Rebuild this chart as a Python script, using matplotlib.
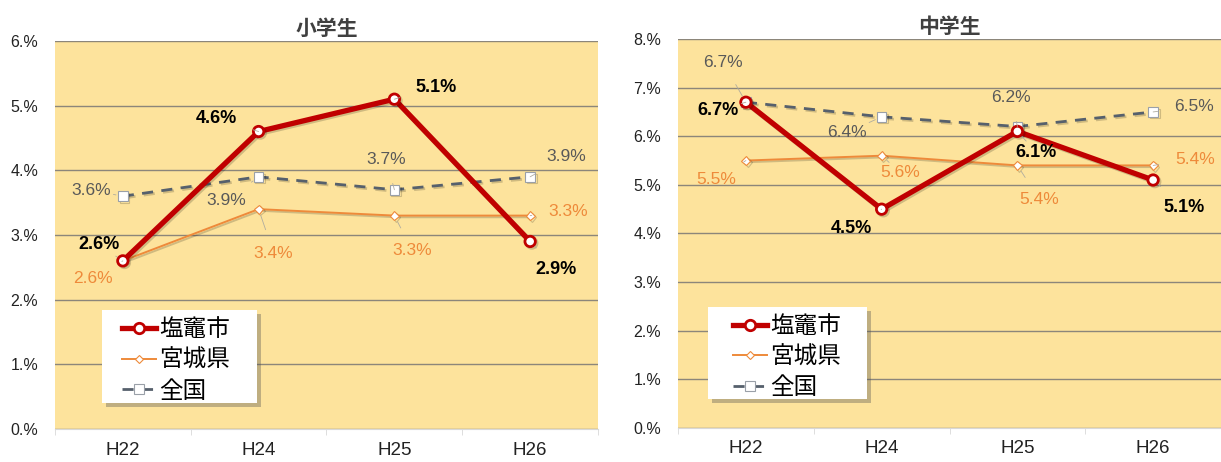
import matplotlib
matplotlib.use("Agg")
import matplotlib.pyplot as plt
import matplotlib.patheffects as pe
from matplotlib.patches import Rectangle

plt.rcParams['font.family'] = ['Liberation Sans', 'Noto Sans CJK JP', 'DejaVu Sans']

# ---- data ----
categories = ["H22", "H24", "H25", "H26"]
series_names = ["塩竈市", "宮城県", "全国"]

elem_titles = "小学生"
elem_shiogama = [2.6, 4.6, 5.1, 2.9]
elem_miyagi = [2.6, 3.4, 3.3, 3.3]
elem_national = [3.6, 3.9, 3.7, 3.9]
elem_yticks = [0, 1, 2, 3, 4, 5, 6]

jhs_title = "中学生"
jhs_shiogama = [6.7, 4.5, 6.1, 5.1]
jhs_miyagi = [5.5, 5.6, 5.4, 5.4]
jhs_national = [6.7, 6.4, 6.2, 6.5]
jhs_yticks = [0, 1, 2, 3, 4, 5, 6, 7, 8]

# ---- label offsets (pixels) ----
elem_offsets = [
    [(-24, 16), (-42, 13), (42, 12), (26, -28)],
    [(-30, -18), (15, -44), (18, -35), (38, 4)],
    [(-32, 6), (-32, -24), (-8, 30), (36, 20)],
]
jhs_offsets = [
    [(-28, -8), (-30, -19), (19, -21), (31, -27)],
    [(-30, -19), (19, -17), (22, -34), (42, 6)],
    [(-23, 40), (-35, -16), (-6, 29), (41, 5)],
]

FACE = "#FDE39C"
RED = "#C00000"
ORANGE = "#EE8A3A"
GRAY = "#56606C"
GRID = "#8C867A"

styles = [
    dict(color=RED, lw=3.8, marker="o", ms=7.5, mfc="white", mec=RED, mew=2.0, ls="-", zorder=5),
    dict(color=ORANGE, lw=1.4, marker="D", ms=4.5, mfc="white", mec=ORANGE, mew=0.8, ls="-", zorder=4),
    dict(color=GRAY, lw=2.0, marker="s", ms=7, mfc="white", mec="#9AA0A8", mew=0.8,
         ls=(0, (4, 3)), zorder=4),
]
label_styles = [
    dict(color="black", fontweight="bold", fontsize=13),
    dict(color=ORANGE, fontsize=12.5),
    dict(color="#595959", fontsize=12.5),
]

fig = plt.figure(figsize=(12.21, 4.62), dpi=100)


def draw(rect, title, data, yticks, offsets, box, legend_anchor):
    ax = fig.add_axes(rect)
    ax.set_facecolor(FACE)
    x = list(range(len(categories)))
    shadow = [pe.SimpleLineShadow(offset=(1.2, -1.2), alpha=0.18), pe.Normal()]
    lines = []
    for vals, st in zip(data, styles):
        ln, = ax.plot(x, vals, path_effects=shadow, **st)
        lines.append(ln)
    for vals, offs, ls in zip(data, offsets, label_styles):
        for xi, v, off in zip(x, vals, offs):
            ax.annotate(f"{v:.1f}%", xy=(xi, v), xytext=off, textcoords="offset pixels",
                        ha="center", va="center", zorder=6,
                        arrowprops=dict(arrowstyle="-", color="#B0AC9F", lw=0.6,
                                        shrinkA=10, shrinkB=5),
                        **ls)
    ax.set_xlim(-0.5, len(categories) - 0.5)
    ax.set_ylim(yticks[0], yticks[-1])
    ax.set_yticks(yticks)
    ax.set_yticklabels([f"{t}.%" for t in yticks], fontsize=11.5, color="#222222")
    ax.set_xticks(x)
    ax.set_xticklabels(categories, fontsize=13.5, color="#222222")
    ax.set_xticks([i - 0.5 for i in range(len(categories) + 1)], minor=True)
    ax.tick_params(axis="x", which="major", length=0, pad=9)
    ax.tick_params(axis="x", which="minor", length=4, color="#D8D8D8")
    ax.tick_params(axis="y", length=0, pad=12)
    ax.yaxis.grid(True, color=GRID, lw=1.0)
    ax.set_axisbelow(True)
    for s in ["top", "right", "left"]:
        ax.spines[s].set_visible(False)
    ax.spines["bottom"].set_color("#D8D8D8")
    ax.set_title(title, fontsize=15, fontweight="bold", color="#404040", pad=4,
                 family=["Noto Sans CJK JP"])

    # legend panel: white box with a soft drop shadow
    panel = Rectangle(box[:2], box[2], box[3], transform=ax.transAxes,
                      facecolor="white", edgecolor="none", zorder=9,
                      path_effects=[pe.SimplePatchShadow(offset=(3, -3), alpha=0.35),
                                    pe.Normal()])
    ax.add_patch(panel)
    leg = ax.legend(lines, series_names, loc="upper left", bbox_to_anchor=legend_anchor,
                    prop=dict(family=["Noto Sans CJK JP"], size=17), frameon=False,
                    handlelength=1.45, handletextpad=0.12, labelspacing=0.32,
                    borderpad=0, borderaxespad=0)
    leg.set_zorder(10)
    for h in leg.legend_handles:
        h.set_path_effects([])
    return ax


draw([0.045, 0.0714, 0.4448, 0.8399], elem_titles,
     [elem_shiogama, elem_miyagi, elem_national], elem_yticks, elem_offsets,
     (0.0866, 0.067, 0.2855, 0.2397), (0.123, 0.285))
draw([0.5553, 0.0736, 0.4447, 0.8420], jhs_title,
     [jhs_shiogama, jhs_miyagi, jhs_national], jhs_yticks, jhs_offsets,
     (0.0552, 0.0746, 0.2928, 0.2365), (0.101, 0.290))

fig.savefig("out.png", dpi=100, facecolor="white")
